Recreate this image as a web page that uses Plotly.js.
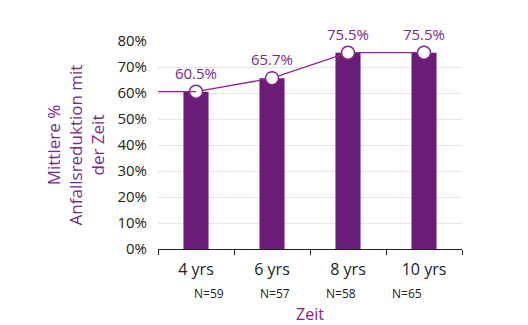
<!DOCTYPE html>
<html><head><meta charset="utf-8">
<script src="https://cdn.plot.ly/plotly-3.0.1.min.js"></script>
<style>html,body{margin:0;padding:0;background:#fff}#c{width:528px;height:325px}</style>
</head><body><div id="c"></div>
<script>
const categories = ["4 yrs", "6 yrs", "8 yrs", "10 yrs"];
const reduction = [0.605, 0.657, 0.755, 0.755];
const valueLabels = ["60.5%", "65.7%", "75.5%", "75.5%"];
const nLabels = ["N=59", "N=57", "N=58", "N=65"];

const purpleBar = "#6a1d77";
const purpleLine = "#8a2a8c";
const purpleText = "#7a2a86";
const FONT = "Open Sans, sans-serif";

const bars = {
  type: "bar", x: categories, y: reduction, width: 0.33,
  marker: {color: purpleBar}, hoverinfo: "skip", showlegend: false
};
const line = {
  type: "scatter", mode: "lines+markers+text", x: categories, y: reduction,
  text: valueLabels, textposition: "top center",
  textfont: {family: FONT, size: 15, color: purpleText},
  line: {color: purpleLine, width: 1.3},
  marker: {size: 13, color: "#fff", line: {color: purpleLine, width: 1.5}},
  cliponaxis: false, showlegend: false
};

const annotations = nLabels.map((t, i) => ({
  text: t, x: categories[i], xref: "x", y: 0, yref: "paper",
  yanchor: "middle", yshift: -44, xshift: 13 - 10 * i, showarrow: false,
  font: {family: FONT, size: 12, color: "#222"}
}));

const layout = {
  width: 528, height: 325,
  margin: {l: 158, r: 66, t: 41, b: 76},
  paper_bgcolor: "#fff", plot_bgcolor: "#fff",
  font: {family: FONT, color: "#222"},
  xaxis: {
    type: "category", range: [-0.5, 3.5],
    showline: true, linecolor: "#222", linewidth: 1,
    ticks: "outside", tickson: "boundaries", ticklen: 5, tickcolor: "#222",
    ticklabelstandoff: 6,
    tickfont: {family: FONT, size: 16, color: "#222"},
    title: {text: "Zeit", font: {family: FONT, size: 16, color: purpleText}, standoff: 34}
  },
  yaxis: {
    range: [0, 0.8], tickvals: [0,0.1,0.2,0.3,0.4,0.5,0.6,0.7,0.8],
    tickformat: ".0%", showgrid: true, gridcolor: "#e6e6e6", zeroline: false,
    ticks: "", ticklabelstandoff: 10,
    tickfont: {family: FONT, size: 15, color: "#222"},
    title: {text: "Mittlere %<br>Anfallsreduktion mit<br>der Zeit", font: {family: FONT, size: 17, color: purpleText}, standoff: 8}
  },
  shapes: [{
    type: "line", xref: "paper", x0: 0, x1: 0.125, yref: "y", y0: reduction[0], y1: reduction[0],
    line: {color: purpleLine, width: 1.3}
  }],
  annotations: annotations
};
Plotly.newPlot("c", [bars, line], layout, {displayModeBar: false, staticPlot: true});
</script></body></html>
